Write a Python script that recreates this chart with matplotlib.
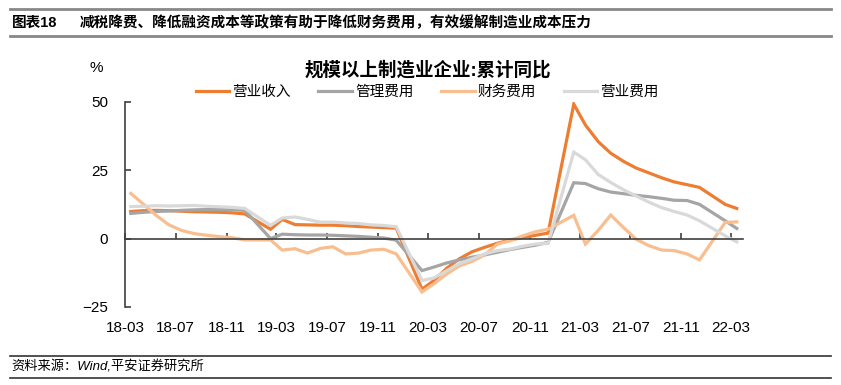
import matplotlib
matplotlib.use("Agg")
import matplotlib.pyplot as plt
import pandas as pd

plt.rcParams['font.family'] = ['Liberation Sans', 'Noto Sans CJK SC', 'DejaVu Sans']

# 月份（1月数据缺失，1-2月合并发布）
months = ["2018-03", "2018-04", "2018-05", "2018-06", "2018-07", "2018-08", "2018-09", "2018-10", "2018-11", "2018-12",
          "2019-02", "2019-03", "2019-04", "2019-05", "2019-06", "2019-07", "2019-08", "2019-09", "2019-10", "2019-11", "2019-12",
          "2020-02", "2020-03", "2020-04", "2020-05", "2020-06", "2020-07", "2020-08", "2020-09", "2020-10", "2020-11", "2020-12",
          "2021-02", "2021-03", "2021-04", "2021-05", "2021-06", "2021-07", "2021-08", "2021-09", "2021-10", "2021-11", "2021-12",
          "2022-02", "2022-03"]

revenue = [9.9, 10.2, 10.3, 10.2, 10.0, 9.8, 9.7, 9.6, 9.4, 9.0,
           3.4, 7.0, 5.1, 5.0, 4.9, 4.9, 4.7, 4.4, 4.2, 4.0, 3.8,
           -18.5, -15.3, -10.8, -7.4, -4.8, -3.2, -1.7, -0.5, 0.4, 1.2, 2.0,
           49.1, 41.5, 35.4, 31.2, 28.2, 25.8, 24.0, 22.2, 20.7, 19.7, 18.7,
           12.5, 11.0]

admin_exp = [9.2, 9.6, 9.9, 10.1, 10.3, 10.5, 10.6, 10.6, 10.5, 10.3,
             0.0, 1.6, 1.4, 1.3, 1.3, 1.2, 1.0, 0.8, 0.5, 0.2, -0.6,
             -11.7, -10.4, -8.9, -7.8, -6.8, -6.0, -5.0, -4.0, -3.2, -2.4, -1.4,
             20.4, 20.1, 18.2, 17.0, 16.4, 15.8, 15.3, 14.7, 14.0, 13.9, 12.5,
             6.5, 3.7]

fin_exp = [16.5, 12.5, 8.5, 5.0, 3.0, 1.8, 1.2, 0.7, 0.3, -0.5,
           -0.5, -4.2, -3.7, -5.3, -3.6, -3.0, -5.6, -5.3, -4.2, -3.9, -5.6,
           -19.5, -16.5, -12.9, -10.0, -8.3, -6.0, -2.0, -0.8, 1.0, 2.5, 3.4,
           8.5, -2.0, 3.0, 8.6, 4.0, -0.2, -2.6, -4.2, -4.4, -5.6, -7.8,
           5.9, 6.1]

sell_exp = [11.7, 11.8, 12.0, 11.9, 12.0, 12.1, 11.8, 11.6, 11.4, 11.0,
            4.8, 7.5, 7.9, 7.0, 6.0, 6.0, 5.7, 5.5, 5.0, 4.8, 4.3,
            -15.3, -14.4, -11.7, -9.2, -7.4, -5.6, -4.4, -3.8, -2.8, -2.0, -1.8,
            31.6, 28.8, 23.4, 20.5, 17.8, 15.6, 13.3, 11.3, 9.9, 8.6, 6.5,
            1.0, -1.2]

series_names = ["营业收入", "管理费用", "财务费用", "营业费用"]
colors = ["#ED7D31", "#A5A5A5", "#F8BE90", "#D9D9D9"]

dates = pd.to_datetime(months) + pd.Timedelta(days=14)
tick_dates = pd.date_range("2018-03-01", "2022-03-01", freq="4MS")
tick_labels = [d.strftime("%y-%m") for d in tick_dates]

fig = plt.figure(figsize=(8.41, 3.85), dpi=100)
ax = fig.add_axes([0.1486, 0.2026, 0.7349, 0.5332])

for vals, name, c in zip([revenue, admin_exp, fin_exp, sell_exp], series_names, colors):
    ax.plot(dates, vals, color=c, lw=2.3, label=name, solid_joinstyle='miter')

ax.set_ylim(-25, 50)
ax.set_yticks([-25, 0, 25, 50])
ax.set_xlim(pd.Timestamp("2018-03-01"), pd.Timestamp("2022-03-30"))
ax.set_xticks(tick_dates)
ax.set_xticklabels([])

for s in ["top", "right"]:
    ax.spines[s].set_visible(False)
ax.spines["left"].set_color("#404040")
ax.spines["left"].set_linewidth(1.2)
ax.spines["bottom"].set_position(("data", 0))
ax.spines["bottom"].set_color("#404040")
ax.spines["bottom"].set_linewidth(1.2)
ax.tick_params(axis="y", direction="in", length=4, width=1.2, color="#404040",
               labelsize=11, pad=12)
ax.tick_params(axis="x", direction="in", length=4, width=1.2, color="#404040")

sec = ax.secondary_xaxis("bottom")
sec.set_xticks(tick_dates)
sec.set_xticklabels(tick_labels)
sec.spines["bottom"].set_visible(False)
sec.tick_params(length=0, labelsize=11, pad=10)

fig.text(0.115, 0.823, "%", fontsize=11, ha="center", va="center")
fig.text(0.509, 0.818, "规模以上制造业企业:累计同比", fontsize=13.3, fontweight="bold",
         ha="center", va="center")
fig.legend(loc="center", bbox_to_anchor=(0.508, 0.761), ncol=4, frameon=False,
           fontsize=10.5, handlelength=2.3, handletextpad=0.2, columnspacing=1.9,
           borderaxespad=0)

# 页眉与页脚
fig.add_artist(plt.Line2D([0.012, 0.988], [0.977, 0.977], color="#888888", lw=2))
fig.add_artist(plt.Line2D([0.012, 0.988], [0.906, 0.906], color="#888888", lw=2))
fig.text(0.014, 0.942, "图表18", fontsize=10.5, fontweight="bold", va="center")
fig.text(0.095, 0.942, "减税降费、降低融资成本等政策有助于降低财务费用，有效缓解制造业成本压力",
         fontsize=10.5, fontweight="bold", va="center")
fig.add_artist(plt.Line2D([0.012, 0.988], [0.075, 0.075], color="#333333", lw=1.2))
fig.add_artist(plt.Line2D([0.012, 0.988], [0.018, 0.018], color="#333333", lw=1.2))
fig.text(0.014, 0.047, "资料来源：Wind,平安证券研究所", fontsize=9.5, style="italic", va="center")

fig.savefig("out.png", dpi=100)
